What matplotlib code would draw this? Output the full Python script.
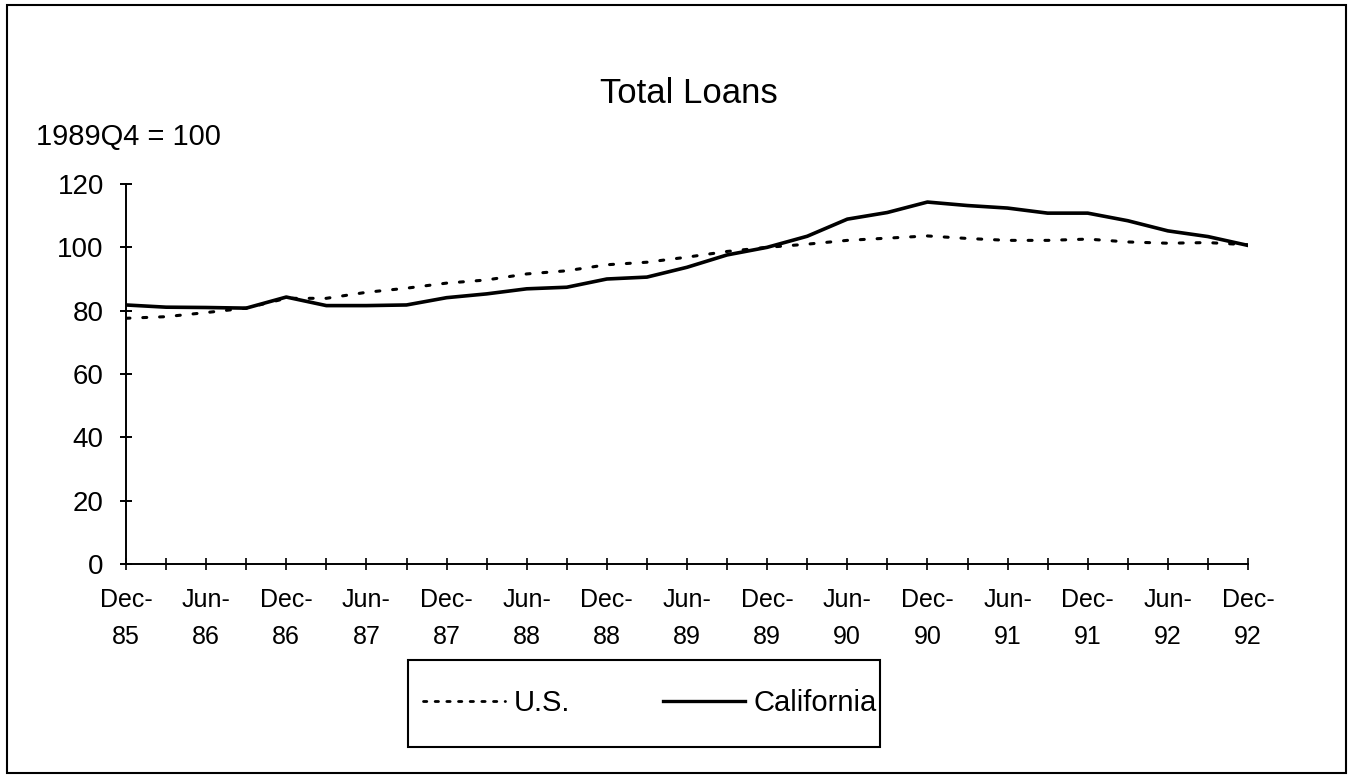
import numpy as np
import matplotlib.pyplot as plt
from matplotlib.patches import Rectangle
from matplotlib.lines import Line2D

plt.rcParams['font.family'] = ['Liberation Sans', 'DejaVu Sans']

# Quarterly index values, Dec-85 .. Dec-92 (1989Q4 = 100)
quarters = np.arange(29)
us = [77.6, 78.1, 79.4, 80.8, 83.9, 83.9, 85.8, 87.1, 88.7, 89.7,
      91.6, 92.6, 94.5, 95.3, 96.9, 98.7, 100.0, 101.0, 102.2, 102.9,
      103.6, 102.8, 102.2, 102.2, 102.6, 101.7, 101.3, 101.5, 100.8]
california = [81.8, 81.1, 81.0, 80.8, 84.3, 81.6, 81.6, 81.8, 84.1, 85.3,
              86.9, 87.4, 90.0, 90.6, 93.7, 97.6, 100.0, 103.5, 108.9, 111.0,
              114.3, 113.2, 112.4, 110.8, 110.8, 108.4, 105.2, 103.4, 100.6]
tick_labels = ["Dec-\n85", "Jun-\n86", "Dec-\n86", "Jun-\n87", "Dec-\n87",
               "Jun-\n88", "Dec-\n88", "Jun-\n89", "Dec-\n89", "Jun-\n90",
               "Dec-\n90", "Jun-\n91", "Dec-\n91", "Jun-\n92", "Dec-\n92"]

W, H = 1353, 776
fig = plt.figure(figsize=(W / 100, H / 100), dpi=100)
ax = fig.add_axes([126 / W, 1 - 564 / H, (1248 - 126) / W, (564 - 184) / H])

ax.plot(quarters, us, color="black", lw=2.2, linestyle=(0, (1.3, 4.2)),
        dash_capstyle="round")
ax.plot(quarters, california, color="black", lw=2.6, solid_joinstyle="round")

ax.set_xlim(0, 28)
ax.set_ylim(0, 120)
ax.set_yticks(range(0, 121, 20))
ax.set_xticks(quarters[::2])
ax.set_xticks(quarters[1::2], minor=True)
ax.set_xticklabels(tick_labels, linespacing=1.7)

for side in ["top", "right"]:
    ax.spines[side].set_visible(False)
for side in ["left", "bottom"]:
    ax.spines[side].set_linewidth(1.4)

ax.tick_params(axis="y", direction="inout", length=8, width=1.4, pad=12,
               labelsize=20)
ax.tick_params(axis="x", which="both", direction="inout", length=8, width=1.2)
ax.tick_params(axis="x", which="major", pad=13, labelsize=18)

# titles
fig.text(689 / W, 1 - 103 / H, "Total Loans", ha="center", va="baseline",
         fontsize=25)
fig.text(36 / W, 1 - 145 / H, "1989Q4 = 100", ha="left", va="baseline",
         fontsize=21)

# outer frame
fig.patches.append(Rectangle((7 / W, 1 - 773 / H), (1346 - 7) / W, (773 - 5) / H,
                             transform=fig.transFigure, fill=False,
                             edgecolor="black", lw=1.5))

# legend box
fig.patches.append(Rectangle((408 / W, 1 - 747 / H), (880 - 408) / W, (747 - 660) / H,
                             transform=fig.transFigure, fill=False,
                             edgecolor="black", lw=1.5))
handles = [Line2D([], [], color="black", lw=2.0, linestyle=(0, (1.2, 3.0)),
                  dash_capstyle="round"),
           Line2D([], [], color="black", lw=2.4)]
fig.legend(handles, ["U.S.", "California"], ncol=2, frameon=False,
           loc="center", bbox_to_anchor=(650 / W, 1 - 703 / H),
           fontsize=21, handlelength=2.8, handletextpad=0.3,
           columnspacing=3.2)

fig.savefig("out.png", dpi=100)
